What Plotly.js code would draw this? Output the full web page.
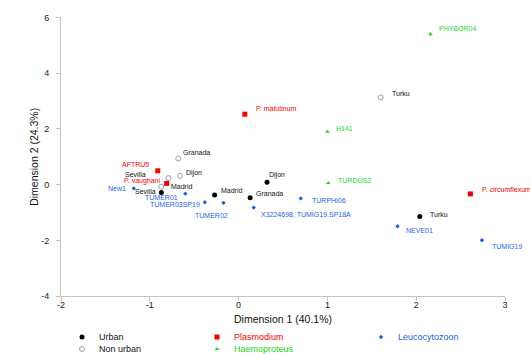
<!DOCTYPE html>
<html>
<head>
<meta charset="utf-8">
<script src="https://cdn.plot.ly/plotly-3.0.1.min.js"></script>
<style>html,body{margin:0;padding:0;background:#fff}</style>
</head>
<body>
<div id="chart" style="width:530px;height:354px"></div>
<script>
// Urban populations
const urbanNames = ['Sevilla', 'Madrid', 'Granada', 'Dijon', 'Turku'];
const urbanX = [-0.87, -0.27, 0.13, 0.32, 2.04];
const urbanY = [-0.28, -0.37, -0.47, 0.09, -1.14];

// Non urban populations
const ruralNames = ['Granada', 'Sevilla', 'Dijon', 'Madrid', 'Turku'];
const ruralX = [-0.68, -0.79, -0.66, -0.87, 1.60];
const ruralY = [0.94, 0.24, 0.32, -0.07, 3.13];

// Plasmodium lineages
const plasNames = ['AFTRU5', 'P. vaughani', 'P. matutinum', 'P. circumflexum'];
const plasX = [-0.91, -0.81, 0.07, 2.61];
const plasY = [0.50, 0.05, 2.53, -0.33];

// Haemoproteus lineages
const haemNames = ['PHYBOR04', 'H141', 'TURDUS2'];
const haemX = [2.16, 1.00, 1.01];
const haemY = [5.40, 1.90, 0.06];

// Leucocytozoon lineages
const leucNames = ['New1', 'TUMER01', 'TUMER03SP19', 'TUMER02', 'X3224698, TUMIG19.SP18A', 'TURPHI06', 'NEVE01', 'TUMIG19'];
const leucX = [-1.18, -0.60, -0.38, -0.17, 0.17, 0.70, 1.79, 2.74];
const leucY = [-0.13, -0.32, -0.63, -0.65, -0.82, -0.49, -1.49, -1.99];

// Axis ticks
const xTickVals = [-2, -1, 0, 1, 2, 3];
const xTickText = ['-2', '-1', '0', '1', '2', '3'];
const yTickVals = [-4, -2, 0, 2, 4, 6];
const yTickText = ['-4', '-2', '0', '2', '4', '6'];

// Label placement next to each point: [anchor, dx px, dy px (up)]
const urbanLabelPos = [['right', -4, 1], ['left', 5, 5], ['left', 5, 4], ['left', 1, 7], ['left', 9, 2]];
const ruralLabelPos = [['left', 4, 6], ['right', -21, 4], ['left', 5, 3], ['left', 9, 0], ['left', 10, 4]];
const plasLabelPos = [['right', -8, 6], ['right', -5, 2], ['left', 10, 6], ['left', 11, 4]];
const haemLabelPos = [['left', 8, 6], ['left', 8, 3], ['left', 9, 3]];
const leucLabelPos = [['right', -7, 0], ['right', -6, -4], ['right', -4, -2.5], ['center', -12, -13],
                      ['left', 6, -6.5], ['left', 10, -2], ['left', 7, -4], ['left', 9, -6]];

const RED = '#f50000', GREEN = '#22d422', BLUE = '#1c5fe8', BLACK = '#000000', GREY = '#a0a0a0';
const FONT = 'Liberation Sans, Arial, Helvetica, sans-serif';

const groups = [
  {name: 'Urban', names: urbanNames, x: urbanX, y: urbanY, pos: urbanLabelPos,
   marker: {symbol: 'circle', size: 5, color: BLACK}, labelColor: '#111111', textColor: '#111111'},
  {name: 'Non urban', names: ruralNames, x: ruralX, y: ruralY, pos: ruralLabelPos,
   marker: {symbol: 'circle-open', size: 5, color: GREY, line: {width: 1, color: GREY}}, labelColor: '#111111', textColor: '#111111'},
  {name: 'Plasmodium', names: plasNames, x: plasX, y: plasY, pos: plasLabelPos,
   marker: {symbol: 'square', size: 5, color: RED}, labelColor: RED, textColor: RED},
  {name: 'Haemoproteus', names: haemNames, x: haemX, y: haemY, pos: haemLabelPos,
   marker: {symbol: 'triangle-up', size: 4.2, color: GREEN}, labelColor: GREEN, textColor: GREEN},
  {name: 'Leucocytozoon', names: leucNames, x: leucX, y: leucY, pos: leucLabelPos,
   marker: {symbol: 'diamond', size: 3.4, color: BLUE}, labelColor: BLUE, textColor: BLUE}
];

const traces = [];
const annotations = [];

groups.forEach(g => {
  traces.push({
    type: 'scatter', mode: 'markers', name: g.name,
    x: g.x, y: g.y, text: g.names, hoverinfo: 'text+x+y',
    marker: g.marker, showlegend: false, cliponaxis: false
  });
  g.names.forEach((label, i) => {
    const p = g.pos[i];
    annotations.push({
      x: g.x[i], y: g.y[i], xref: 'x', yref: 'y', text: label, showarrow: false,
      xanchor: p[0], yanchor: 'middle', xshift: p[1], yshift: p[2], borderpad: 0,
      font: {family: FONT, size: 7, color: g.labelColor}
    });
  });
});

// Key below the plot: three columns, two rows, drawn on a full-figure overlay axis (pixel units)
const keyColumns = [82, 217, 381];
const keyRows = [337, 349];
const keyLayout = [[0, 0], [0, 1], [1, 0], [1, 1], [2, 0]];
groups.forEach((g, k) => {
  const cx = keyColumns[keyLayout[k][0]];
  const cy = keyRows[keyLayout[k][1]];
  traces.push({
    type: 'scatter', mode: 'markers', x: [cx], y: [cy], xaxis: 'x2', yaxis: 'y2',
    marker: g.marker, showlegend: false, hoverinfo: 'skip', cliponaxis: false
  });
  annotations.push({
    x: cx + 16, y: cy, xref: 'x2', yref: 'y2', text: g.name, showarrow: false,
    xanchor: 'left', yanchor: 'middle', borderpad: 0,
    font: {family: FONT, size: 9, color: g.textColor}
  });
});

const W = 530, H = 354;
const axisCommon = {
  showgrid: false, zeroline: false, showline: true, linecolor: '#c4c4c4', linewidth: 1,
  ticks: 'outside', ticklen: 4, tickwidth: 1, tickcolor: '#c4c4c4',
  tickfont: {family: FONT, size: 9, color: '#222222'}, fixedrange: true
};

const layout = {
  width: W, height: H,
  margin: {l: 0, r: 0, t: 0, b: 0},
  paper_bgcolor: '#ffffff', plot_bgcolor: 'rgba(0,0,0,0)',
  showlegend: false,
  font: {family: FONT},
  xaxis: Object.assign({}, axisCommon, {
    domain: [61 / W, 505 / W], range: [-2, 3], anchor: 'y',
    tickvals: xTickVals, ticktext: xTickText, ticklabelstandoff: -4,
    title: {text: 'Dimension 1 (40.1%)', font: {family: FONT, size: 10.5, color: '#111111'}, standoff: 6}
  }),
  yaxis: Object.assign({}, axisCommon, {
    domain: [(H - 296.3) / H, (H - 17.4) / H], range: [-4, 6], anchor: 'x',
    tickvals: yTickVals, ticktext: yTickText, ticklabelstandoff: 5,
    title: {text: 'Dimension 2 (24.3%)', font: {family: FONT, size: 10.5, color: '#111111'}, standoff: 0}
  }),
  xaxis2: {domain: [0, 1], range: [0, W], visible: false, fixedrange: true, anchor: 'y2'},
  yaxis2: {domain: [0, 1], range: [H, 0], visible: false, fixedrange: true, anchor: 'x2'},
  annotations: annotations
};

Plotly.newPlot('chart', traces, layout, {staticPlot: true, displayModeBar: false});
</script>
</body>
</html>
